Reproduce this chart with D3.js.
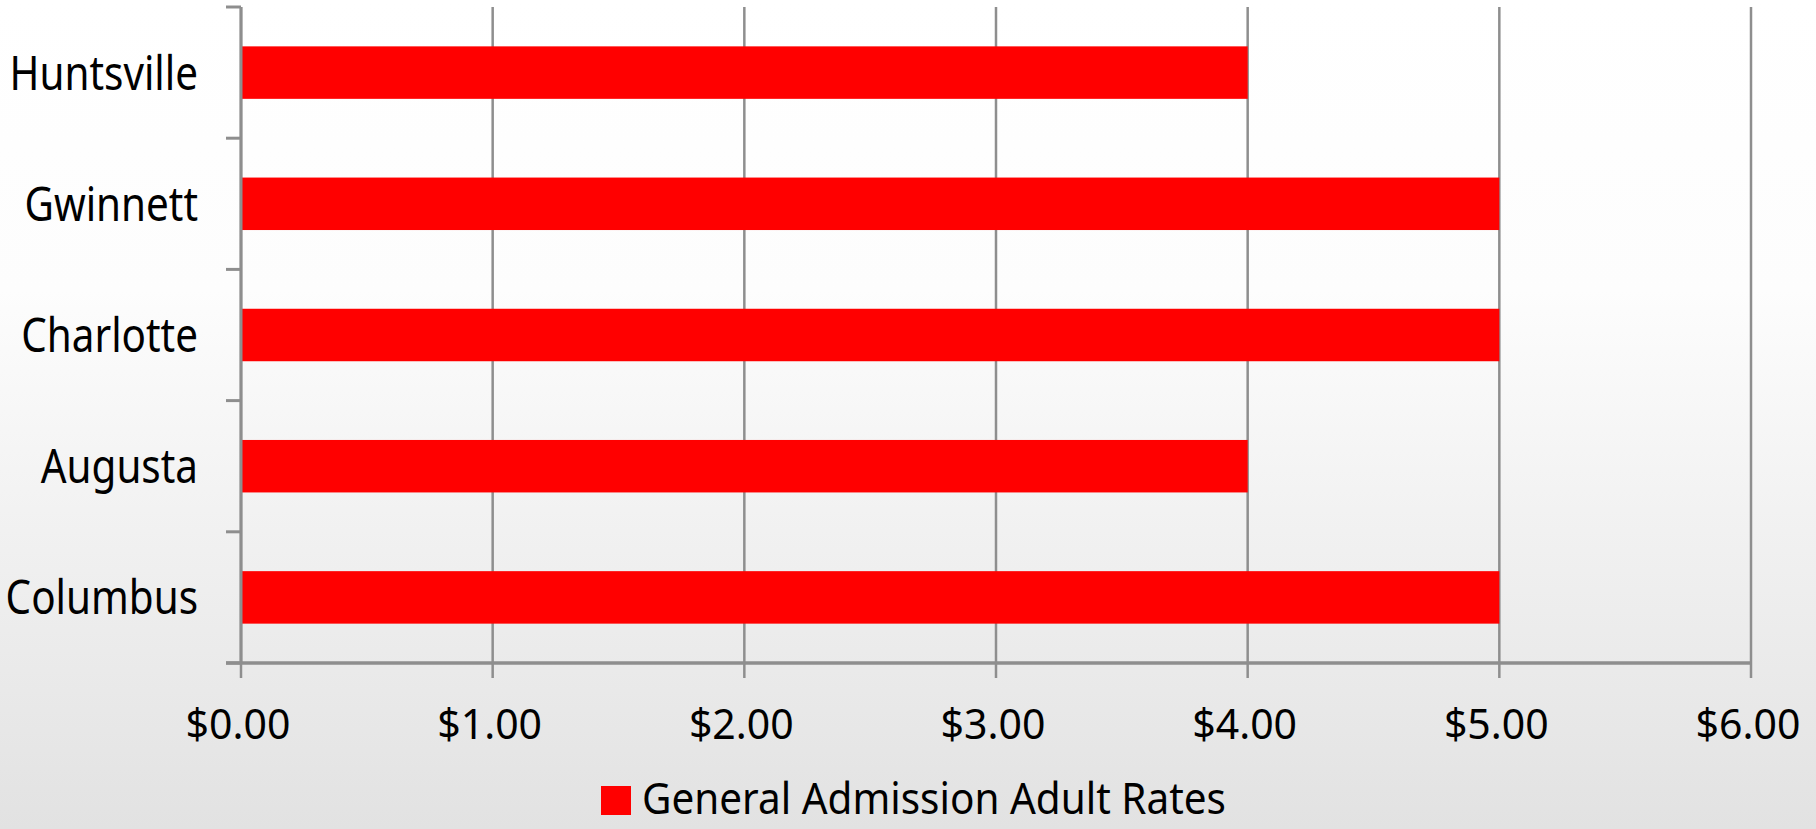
<!DOCTYPE html>
<html>
<head>
<meta charset="utf-8">
<script src="https://cdn.jsdelivr.net/npm/d3@7.9.0/dist/d3.min.js"></script>
<style>
  html, body { margin: 0; padding: 0; background: #fff; }
  svg { display: block; }
  text { font-family: "Noto Sans", sans-serif; fill: #000; }
</style>
</head>
<body>
<svg id="chart" width="1816" height="829"></svg>
<script>
// data
const cities = ['Huntsville', 'Gwinnett', 'Charlotte', 'Augusta', 'Columbus'];
const rates = [4, 5, 5, 4, 5];
const xTicks = [0, 1, 2, 3, 4, 5, 6];
const seriesName = 'General Admission Adult Rates';

const W = 1816, H = 829;
const plotLeft = 241, plotRight = 1751, plotTop = 7, plotBottom = 663;
const gridColor = '#8e8e8e';

const svg = d3.select('#chart');

// background fades from white to light grey
const defs = svg.append('defs');
const grad = defs.append('linearGradient')
  .attr('id', 'bg').attr('x1', 0).attr('y1', 0).attr('x2', 0).attr('y2', 1);
grad.append('stop').attr('offset', '0%').attr('stop-color', '#ffffff');
grad.append('stop').attr('offset', '35%').attr('stop-color', '#fdfdfd');
grad.append('stop').attr('offset', '100%').attr('stop-color', '#e2e2e2');
svg.append('rect').attr('width', W).attr('height', H).attr('fill', 'url(#bg)');

const x = d3.scaleLinear().domain([0, 6]).range([plotLeft, plotRight]);
const y = d3.scaleBand().domain(cities).range([plotTop, plotBottom])
  .paddingInner(0.6).paddingOuter(0.3);

// vertical gridlines (plus the tick below the axis)
svg.append('g')
  .selectAll('line')
  .data(xTicks)
  .join('line')
  .attr('x1', d => x(d)).attr('x2', d => x(d))
  .attr('y1', plotTop).attr('y2', plotBottom + 15)
  .attr('stroke', gridColor).attr('stroke-width', 2.5);

// bars
svg.append('g')
  .selectAll('rect')
  .data(cities)
  .join('rect')
  .attr('x', x(0))
  .attr('y', d => y(d))
  .attr('width', (d, i) => x(rates[i]) - x(0))
  .attr('height', y.bandwidth())
  .attr('fill', '#ff0000');

// left axis line with ticks on category boundaries
const bounds = d3.range(cities.length + 1).map(i => plotTop + i * y.step());
svg.append('line')
  .attr('x1', x(0)).attr('x2', x(0)).attr('y1', plotTop).attr('y2', plotBottom)
  .attr('stroke', gridColor).attr('stroke-width', 3);
svg.append('g')
  .selectAll('line')
  .data(bounds)
  .join('line')
  .attr('x1', x(0) - 15).attr('x2', x(0))
  .attr('y1', d => d).attr('y2', d => d)
  .attr('stroke', gridColor).attr('stroke-width', 3);

// bottom axis line
svg.append('line')
  .attr('x1', x(0) - 15).attr('x2', x(6)).attr('y1', plotBottom).attr('y2', plotBottom)
  .attr('stroke', gridColor).attr('stroke-width', 3.5);

// x tick labels
svg.append('g')
  .selectAll('text')
  .data(xTicks)
  .join('text')
  .attr('x', d => x(d) - 3)
  .attr('y', 739)
  .attr('text-anchor', 'middle')
  .attr('font-size', 41)
  .text(d => d3.format('$.2f')(d));

// category labels
svg.append('g')
  .selectAll('text')
  .data(cities)
  .join('text')
  .attr('transform', d => `translate(198,${y(d) + y.bandwidth() / 2 + 17}) scale(0.86,1)`)
  .attr('text-anchor', 'end')
  .attr('font-size', 47)
  .text(d => d);

// legend
const legend = svg.append('g').attr('transform', 'translate(601,786)');
legend.append('rect').attr('width', 30).attr('height', 29).attr('fill', '#ff0000');
legend.append('text')
  .attr('transform', 'translate(41,28) scale(0.92,1)')
  .attr('font-size', 44)
  .text(seriesName);
</script>
</body>
</html>
